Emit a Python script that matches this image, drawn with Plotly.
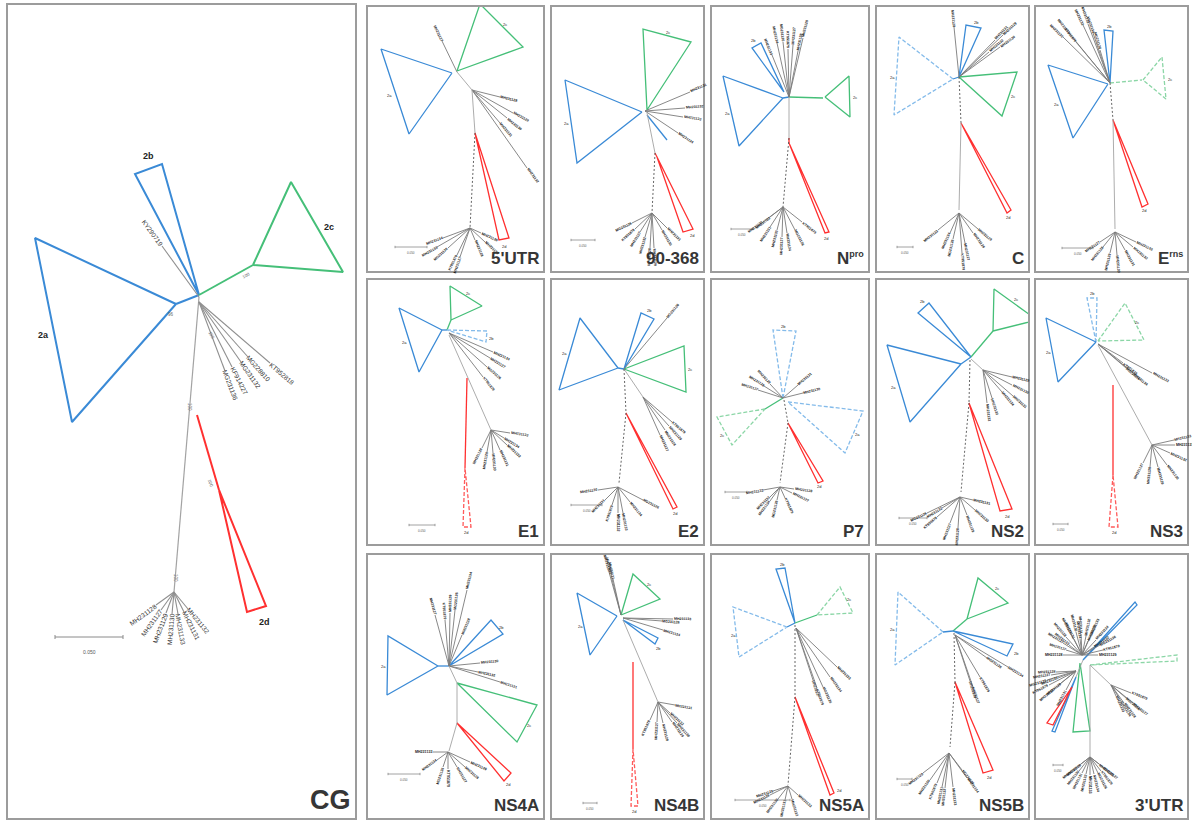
import math
import plotly.graph_objects as go

# ------------------------------------------------------------------ data ---
PANEL_LABELS = ["CG", "5'UTR", "90-368", "N<sup><span style='font-size:9px'>pro</span></sup>", "C",
                "E<sup><span style='font-size:9px'>rns</span></sup>",
                "E1", "E2", "P7", "NS2", "NS3", "NS4A", "NS4B", "NS5A", "NS5B", "3'UTR"]

ACCESSIONS = ["MH231127", "MH231128", "MH231129", "MH231130", "MH231131",
              "MH231132", "MH231133", "MH231134", "MG231126", "KT951879"]

# Tree layouts: node coordinates in each panel's own layout units.
# clades: (style, apex, vertex1, vertex2, clade label, label position)
# edges: (node, node, style)  -- style 'k' is a labelled leaf
# fans: (node, [leaf tips])
# scale: (x start, x end, y)

CG_CLADES = [("b", (168, 299), (27, 233), (64, 417), "2a", (35, 330)),
             ("b", (191, 290), (127, 169), (154, 159), "2b", (140, 151)),
             ("g", (245, 260), (283, 177), (335, 267), "2c", (321, 222)),
             ("r", (211, 485), (239, 607), (258, 601), "2d", (256, 617))]
CG_EDGES = [((191, 290), (168, 299), "b"), ((191, 290), (245, 260), "g"),
            ((189, 410), (211, 485), "r"), ((191, 292), (166, 587), "n")]
CG_LEAVES = [((191, 292), (154, 241), "KY290719"), ((191, 297), (262, 358), "KT952818"),
             ((191, 297), (240, 352), "MG228810"), ((191, 297), (233, 357), "MG231132"),
             ((191, 297), (224, 362), "KF914227"), ((191, 297), (217, 366), "MG231136")]
CG_FAN_NODE = (166, 587)
CG_FAN_TIPS = [(148, 600), (153, 605), (158, 608), (164, 609), (170, 609), (176, 607), (180, 604)]
CG_FAN_NAMES = ["MH231128", "MH231127", "MH231129", "MH231130", "MH231133", "MH231131", "MH231132"]
CG_SUPPORT = [((238, 270), "100", -30), ((182, 402), "100", 90), ((203, 478), "100", 68),
              ((204, 330), "100", 62), ((163, 309), "96", 0), ((168, 573), "100", 90)]
CG_SCALE = (47, 115, 632, "0.050")

UTR5_CLADES = [("b", (84, 66), (13, 42), (41, 127), "2a", (21, 88)),
               ("g", (89, 64), (112, -3), (155, 40), "2c", (137, 17)),
               ("r", (107, 126), (131, 233), (141, 231), "2d", (136, 239))]
UTR5_EDGES = [((89, 65), (74, 34), "k"), ((89, 65), (104, 83), "n"),
              ((104, 83), (132, 90), "k"), ((104, 83), (145, 106), "k"), ((104, 83), (139, 111), "k"),
              ((104, 83), (132, 116), "k"), ((104, 83), (159, 161), "k"),
              ((104, 83), (107, 126), "n"), ((107, 126), (102, 221), "d")]
UTR5_FANS = [((102, 221), [(69, 240), (75, 231), (80, 241), (89, 248), (92, 250), (107, 233), (117, 235), (113, 226)])]
UTR5_SCALE = (27, 59, 240, "0.050")

S90_CLADES = [("b", (90, 105), (13, 73), (25, 156), "2a", (14, 116)),
              ("g", (95, 103), (91, 22), (139, 35), "2c", (116, 25)),
              ("r", (105, 150), (131, 225), (141, 222), "2d", (140, 228))]
S90_EDGES = [((93, 104), (138, 85), "k"), ((93, 104), (133, 101), "k"), ((93, 104), (131, 110), "k"),
             ((93, 104), (126, 126), "k"), ((95, 108), (115, 133), "b"), ((95, 106), (103, 146), "n"),
             ((103, 146), (105, 150), "r"), ((103, 146), (100, 206), "d")]
S90_FANS = [((100, 206), [(80, 216), (83, 222), (88, 225), (98, 241), (102, 241), (110, 223), (115, 221), (93, 230)])]
S90_SCALE = (19, 43, 233, "0.050")

NPRO_CLADES = [("b", (71, 91), (11, 69), (27, 139), "2a", (15, 106)),
               ("b", (72, 85), (40, 41), (49, 36), "2b", (41, 33)),
               ("g", (113, 90), (137, 69), (138, 110), "2c", (143, 90)),
               ("r", (77, 136), (113, 226), (117, 225), "2d", (114, 231))]
NPRO_EDGES = [((77, 90), (111, 91), "g"), ((77, 90), (71, 91), "b"),
              ((77, 90), (60, 48), "k"), ((77, 90), (65, 36), "k"), ((77, 90), (71, 35), "k"),
              ((77, 90), (76, 42), "k"), ((77, 90), (81, 38), "k"), ((77, 90), (86, 44), "k"),
              ((77, 90), (91, 31), "k"), ((77, 90), (77, 131), "n"), ((77, 131), (77, 136), "r"),
              ((77, 131), (71, 200), "d")]
NPRO_FANS = [((71, 200), [(51, 215), (58, 220), (58, 210), (65, 223), (75, 226), (83, 223), (90, 215), (70, 230)])]
NPRO_SCALE = (19, 41, 222, "0.050")

C_CLADES = [("bl", (76, 72), (22, 30), (17, 108), "2a", (15, 70)),
            ("b", (82, 70), (89, 18), (104, 21), "2b", (99, 15)),
            ("g", (82, 70), (140, 65), (125, 109), "2c", (136, 89)),
            ("r", (84, 116), (130, 206), (134, 203), "2d", (131, 210))]
C_EDGES = [((82, 70), (76, 72), "b"), ((82, 70), (77, 20), "k"), ((82, 70), (126, 28), "k"),
           ((82, 70), (123, 40), "k"), ((82, 70), (118, 33), "k"), ((82, 70), (112, 45), "k"),
           ((82, 70), (84, 116), "d"), ((84, 116), (82, 203), "n")]
C_FANS = [((82, 206), [(61, 223), (73, 226), (76, 232), (85, 246), (88, 236), (96, 226), (101, 222)])]
C_SCALE = (20, 36, 240, "0.050")

ERNS_CLADES = [("b", (72, 77), (12, 58), (37, 131), "2a", (20, 97)),
               ("b", (74, 76), (68, 23), (77, 24), "2b", (73, 19)),
               ("gl", (107, 73), (126, 50), (130, 92), "2c", (134, 72)),
               ("r", (77, 113), (106, 200), (112, 197), "2d", (108, 203))]
ERNS_EDGES = [((74, 76), (106, 73), "gl"), ((74, 76), (27, 30), "k"), ((74, 76), (33, 26), "k"),
              ((74, 76), (47, 18), "k"), ((74, 76), (52, 17), "k"), ((74, 76), (57, 26), "k"),
              ((74, 76), (64, 43), "k"), ((74, 76), (40, 35), "k"), ((74, 76), (77, 113), "d"),
              ((77, 113), (79, 222), "n")]
ERNS_FANS = [((79, 225), [(64, 235), (67, 240), (74, 246), (81, 248), (89, 243), (97, 240), (100, 235)])]
ERNS_SCALE = (26, 57, 241, "0.050")

E1_CLADES = [("b", (74, 50), (31, 28), (51, 92), "2a", (36, 62)),
             ("g", (83, 40), (82, 6), (114, 26), "2c", (100, 13)),
             ("bl", (79, 50), (119, 51), (118, 62), "2b", (123, 58)),
             ("rl", (97, 188), (95, 247), (103, 247), "2d", (98, 252))]
E1_EDGES = [((79, 50), (74, 50), "b"), ((79, 50), (83, 40), "g"), ((81, 53), (125, 72), "k"),
            ((81, 53), (119, 87), "k"), ((81, 53), (115, 97), "k"), ((81, 53), (122, 78), "k"),
            ((81, 55), (123, 150), "n"), ((99, 98), (97, 188), "r")]
E1_FANS = [((123, 150), [(114, 168), (119, 172), (125, 173), (132, 170), (139, 165), (142, 153), (136, 158)])]
E1_SCALE = (41, 67, 245, "0.050")

E2_CLADES = [("b", (66, 88), (28, 38), (7, 110), "2a", (12, 73)),
             ("b", (72, 89), (89, 33), (102, 39), "2b", (97, 30)),
             ("g", (72, 89), (132, 66), (134, 112), "2c", (138, 89)),
             ("r", (74, 133), (121, 229), (125, 227), "2d", (123, 233))]
E2_EDGES = [((72, 89), (66, 88), "b"), ((72, 89), (115, 38), "k"), ((72, 89), (91, 117), "n"),
            ((91, 117), (120, 142), "k"), ((91, 117), (108, 155), "k"), ((91, 117), (113, 150), "k"),
            ((91, 117), (117, 146), "k"), ((72, 89), (74, 133), "d"), ((74, 133), (67, 203), "d")]
E2_FANS = [((66, 207), [(46, 210), (53, 220), (66, 233), (71, 233), (78, 222), (91, 220), (60, 225)])]
E2_SCALE = (19, 50, 225, "0.050")

P7_CLADES = [("bl", (71, 118), (61, 50), (84, 51), "2b", (71, 46)),
             ("bl", (76, 122), (151, 131), (133, 173), "2a", (145, 154)),
             ("gl", (53, 129), (5, 137), (20, 165), "2c", (10, 155)),
             ("r", (76, 143), (106, 203), (111, 201), "2d", (107, 206))]
P7_EDGES = [((71, 118), (53, 129), "g"), ((71, 118), (46, 110), "k"), ((71, 118), (52, 106), "k"),
            ((71, 118), (58, 104), "k"), ((71, 118), (91, 113), "k"), ((71, 118), (86, 105), "k"),
            ((72, 120), (76, 143), "d"), ((76, 143), (68, 203), "d")]
P7_FANS = [((68, 207), [(51, 210), (58, 217), (58, 221), (65, 220), (73, 218), (80, 213), (82, 209)])]
P7_SCALE = (13, 35, 212, "0.050")

NS2_CLADES = [("b", (94, 77), (41, 33), (52, 23), "2b", (45, 21)),
              ("g", (116, 51), (117, 9), (160, 40), "2c", (139, 19)),
              ("b", (84, 84), (10, 65), (33, 142), "2a", (16, 107)),
              ("r", (92, 123), (123, 231), (135, 229), "2d", (130, 236))]
NS2_EDGES = [((94, 77), (116, 51), "g"), ((94, 77), (84, 84), "b"), ((94, 79), (106, 90), "n"),
             ((106, 90), (135, 97), "k"), ((106, 90), (135, 105), "k"), ((106, 90), (136, 116), "k"),
             ((106, 90), (110, 123), "k"), ((106, 90), (115, 118), "k"), ((106, 90), (125, 112), "k"),
             ((93, 80), (92, 123), "d"), ((92, 123), (84, 212), "d")]
NS2_FANS = [((83, 217), [(50, 233), (60, 237), (73, 243), (81, 248), (90, 235), (98, 230), (96, 220), (65, 228)])]
NS2_SCALE = (22, 50, 238, "0.050")

NS3_CLADES = [("bl", (60, 62), (51, 18), (61, 18), "2b", (56, 13)),
              ("gl", (62, 61), (89, 23), (108, 60), "2c", (101, 42)),
              ("b", (60, 62), (10, 38), (22, 102), "2a", (12, 72)),
              ("rl", (77, 195), (73, 247), (82, 247), "2d", (78, 252))]
NS3_EDGES = [((62, 64), (116, 93), "k"), ((62, 64), (97, 93), "k"), ((62, 64), (90, 88), "k"),
             ((62, 64), (87, 83), "k"), ((62, 65), (116, 165), "n"), ((77, 105), (77, 195), "r")]
NS3_FANS = [((116, 165), [(107, 183), (114, 187), (122, 187), (131, 185), (139, 165), (134, 173), (138, 160)])]
NS3_SCALE = (17, 32, 244, "0.050")

NS4A_CLADES = [("b", (70, 111), (20, 81), (19, 140), "2a", (15, 111)),
               ("b", (81, 111), (123, 65), (135, 79), "2b", (133, 72)),
               ("g", (89, 128), (169, 150), (149, 187), "2c", (161, 170)),
               ("r", (89, 168), (136, 226), (143, 218), "2d", (140, 229))]
NS4A_EDGES = [((81, 111), (70, 111), "b"), ((81, 111), (99, 35), "k"), ((81, 111), (87, 55), "k"),
              ((81, 111), (77, 65), "k"), ((81, 111), (67, 60), "k"), ((81, 111), (94, 80), "k"),
              ((81, 111), (82, 58), "k"), ((81, 111), (112, 108), "k"), ((81, 111), (132, 127), "k"),
              ((81, 111), (110, 117), "k"), ((81, 111), (89, 128), "n"), ((89, 128), (89, 168), "n"),
              ((89, 168), (81, 196), "n")]
NS4A_FANS = [((80, 197), [(65, 197), (69, 205), (75, 212), (80, 214), (89, 212), (97, 212), (102, 207)])]
NS4A_SCALE = (20, 52, 219, "0.050")

NS4B_CLADES = [("b", (65, 61), (25, 38), (38, 100), "2a", (28, 71)),
               ("g", (69, 60), (81, 19), (108, 44), "2c", (97, 29)),
               ("b", (71, 65), (106, 83), (103, 89), "2b", (106, 93)),
               ("rl", (81, 194), (79, 251), (86, 251), "2d", (82, 256))]
NS4B_EDGES = [((69, 60), (57, 17), "k"), ((69, 60), (61, 24), "k"), ((69, 60), (59, 20), "k"),
              ((71, 63), (121, 64), "k"), ((71, 63), (111, 75), "k"), ((71, 63), (110, 66), "k"),
              ((71, 65), (106, 147), "n"), ((81, 107), (81, 194), "r")]
NS4B_FANS = [((106, 147), [(98, 165), (105, 167), (111, 168), (120, 167), (125, 168), (123, 150), (118, 158)])]
NS4B_SCALE = (31, 45, 248, "0.050")

NS5A_CLADES = [("b", (83, 68), (64, 14), (73, 13), "2b", (70, 9)),
               ("bl", (75, 72), (21, 52), (27, 102), "2a", (21, 80)),
               ("gl", (105, 60), (128, 32), (141, 58), "2c", (137, 44)),
               ("r", (83, 142), (118, 240), (122, 238), "2d", (127, 235))]
NS5A_EDGES = [((83, 68), (75, 72), "b"), ((83, 68), (105, 60), "g"), ((84, 73), (125, 112), "k"),
              ((84, 73), (118, 122), "k"), ((84, 73), (111, 132), "k"), ((84, 73), (105, 133), "k"),
              ((84, 73), (101, 125), "k"), ((83, 70), (83, 142), "d"), ((83, 142), (76, 230), "d")]
NS5A_FANS = [((76, 231), [(58, 240), (61, 236), (66, 244), (73, 245), (80, 244), (86, 240)])]
NS5A_SCALE = (23, 78, 245, "0.050")

NS5B_CLADES = [("bl", (66, 77), (21, 37), (18, 110), "2a", (15, 74)),
               ("g", (90, 64), (101, 23), (131, 48), "2c", (120, 33)),
               ("b", (76, 76), (136, 89), (130, 101), "2b", (139, 98)),
               ("r", (78, 127), (106, 218), (116, 215), "2d", (112, 222))]
NS5B_EDGES = [((76, 76), (66, 77), "b"), ((76, 76), (90, 64), "g"), ((78, 80), (131, 112), "k"),
              ((78, 80), (110, 103), "k"), ((78, 80), (103, 122), "k"), ((78, 80), (96, 132), "k"),
              ((78, 80), (93, 126), "k"), ((77, 78), (78, 127), "d"), ((78, 127), (73, 192), "d")]
NS5B_FANS = [((72, 198), [(46, 218), (53, 225), (65, 232), (68, 233), (76, 232), (90, 223), (85, 215), (60, 228)])]
NS5B_SCALE = (20, 35, 224, "0.050")

UTR3_CLADES = [("b", (47, 105), (99, 47), (101, 50), "", (101, 44)),
               ("gl", (54, 110), (141, 100), (141, 106), "", (143, 103)),
               ("g", (44, 108), (37, 177), (54, 176), "", (46, 181)),
               ("r", (36, 132), (11, 168), (17, 170), "", (12, 173)),
               ("b", (40, 122), (16, 176), (19, 177), "", (18, 181))]
UTR3_EDGES = [((54, 110), (54, 202), "n"), ((47, 105), (40, 122), "n"), ((54, 110), (75, 130), "n")]
UTR3_FANS = [((46, 100), [(27, 88), (30, 82), (35, 79), (40, 77), (45, 79), (50, 81), (55, 80), (60, 85),
                          (64, 90), (67, 95), (30, 95), (27, 100), (62, 100), (38, 84), (52, 86), (58, 92),
                          (33, 90), (44, 84)]),
             ((40, 116), [(11, 125), (13, 130), (15, 120), (20, 117), (25, 128), (18, 134), (30, 135), (22, 123)]),
             ((75, 130), [(80, 141), (85, 146), (90, 143), (95, 138), (97, 148), (88, 148)]),
             ((54, 202), [(41, 212), (43, 216), (46, 218), (50, 219), (54, 220), (58, 219), (62, 218),
                          (65, 216), (67, 212), (45, 209), (63, 209)])]
UTR3_SCALE = (17, 27, 210, "0.050")

SMALL_PANELS = [
    (UTR5_CLADES, UTR5_EDGES, UTR5_FANS, UTR5_SCALE),
    (S90_CLADES, S90_EDGES, S90_FANS, S90_SCALE),
    (NPRO_CLADES, NPRO_EDGES, NPRO_FANS, NPRO_SCALE),
    (C_CLADES, C_EDGES, C_FANS, C_SCALE),
    (ERNS_CLADES, ERNS_EDGES, ERNS_FANS, ERNS_SCALE),
    (E1_CLADES, E1_EDGES, E1_FANS, E1_SCALE),
    (E2_CLADES, E2_EDGES, E2_FANS, E2_SCALE),
    (P7_CLADES, P7_EDGES, P7_FANS, P7_SCALE),
    (NS2_CLADES, NS2_EDGES, NS2_FANS, NS2_SCALE),
    (NS3_CLADES, NS3_EDGES, NS3_FANS, NS3_SCALE),
    (NS4A_CLADES, NS4A_EDGES, NS4A_FANS, NS4A_SCALE),
    (NS4B_CLADES, NS4B_EDGES, NS4B_FANS, NS4B_SCALE),
    (NS5A_CLADES, NS5A_EDGES, NS5A_FANS, NS5A_SCALE),
    (NS5B_CLADES, NS5B_EDGES, NS5B_FANS, NS5B_SCALE),
    (UTR3_CLADES, UTR3_EDGES, UTR3_FANS, UTR3_SCALE),
]

# ---------------------------------------------------------------- layout ---
FIG_W, FIG_H = 1192, 820
FONT = "Liberation Sans, Arial, Helvetica, sans-serif"
CG_BOX = (8, 5, 355, 818)
COLS = [(368, 543), (552, 703), (712, 868), (877, 1028), (1036, 1187)]
ROWS = [(7, 271), (280, 544), (555, 818)]

STYLES = {
    "b": dict(color="#3a8ad6", dash="solid"),
    "bl": dict(color="#84bbea", dash="4px,2px"),
    "g": dict(color="#45bf78", dash="solid"),
    "gl": dict(color="#8bd6a6", dash="4px,2px"),
    "r": dict(color="#ff3030", dash="solid"),
    "rl": dict(color="#ff5a5a", dash="4px,2px"),
    "n": dict(color="#a3a3a3", dash="solid"),
    "d": dict(color="#555555", dash="2px,2px"),
    "k": dict(color="#7a7a7a", dash="solid"),
}

fig = go.Figure()
annotations = []
acc_counter = [0]


def next_acc():
    name = ACCESSIONS[acc_counter[0] % len(ACCESSIONS)]
    acc_counter[0] += 1
    return name


def leaf_label(xr, yr, node, tip, text, size, color, bold=False):
    dx, dy = tip[0] - node[0], tip[1] - node[1]
    L = math.hypot(dx, dy) or 1.0
    ux, uy = dx / L, dy / L
    tl = len(text) * 0.55 * size
    cx = tip[0] + ux * (tl / 2 + 1.2)
    cy = tip[1] + uy * (tl / 2 + 1.2)
    ang = math.degrees(math.atan2(dy, dx))
    if ang > 90:
        ang -= 180
    elif ang < -90:
        ang += 180
    annotations.append(dict(x=cx, y=cy, xref=xr, yref=yr, text=f"<b>{text}</b>" if bold else text,
                            showarrow=False, textangle=ang, xanchor="center", yanchor="middle",
                            font=dict(size=size, color=color, family=FONT)))


def draw_panel(idx, box, label, clades, edges, fans, scale, big=False):
    left, top, right, bottom = box
    w, h = right - left, bottom - top
    xr = "x" if idx == 0 else f"x{idx + 1}"
    yr = "y" if idx == 0 else f"y{idx + 1}"
    axis_common = dict(showgrid=False, zeroline=False, showticklabels=False, ticks="",
                       showline=True, mirror=True, linecolor="#9c9c9c", linewidth=2,
                       fixedrange=True)
    fig.layout[("xaxis" if idx == 0 else f"xaxis{idx + 1}")] = dict(
        domain=[left / FIG_W, right / FIG_W], range=[0, w], anchor=yr, **axis_common)
    fig.layout[("yaxis" if idx == 0 else f"yaxis{idx + 1}")] = dict(
        domain=[1 - bottom / FIG_H, 1 - top / FIG_H], range=[h, 0], anchor=xr, **axis_common)

    tri_w = 2.0 if big else 1.3
    br_w = 1.2 if big else 0.9
    leaf_size = 6.5 if big else 3.6
    groups = {}

    def add_seg(style, pts):
        g = groups.setdefault(style, ([], []))
        for p in pts:
            g[0].append(p[0])
            g[1].append(p[1])
        g[0].append(None)
        g[1].append(None)

    for style, apex, v1, v2, clab, lpos in clades:
        add_seg(("tri", style), [apex, v1, v2, apex])
        if clab:
            annotations.append(dict(x=lpos[0], y=lpos[1], xref=xr, yref=yr, text=f"<b>{clab}</b>" if big else clab,
                                    showarrow=False, xanchor="center", yanchor="middle",
                                    font=dict(size=9 if big else 4, color="#222", family=FONT)))
    for a, b, style in edges:
        if style == "k":
            add_seg(("br", "k"), [a, b])
            leaf_label(xr, yr, a, b, next_acc(), leaf_size, "#1a1a1a", bold=True)
        elif style in ("n", "d"):
            add_seg(("br", style), [a, b])
        else:
            add_seg(("tri", style), [a, b])
    for node, tips in fans:
        for t in tips:
            add_seg(("br", "k"), [node, t])
            leaf_label(xr, yr, node, t, next_acc(), leaf_size, "#1a1a1a", bold=True)

    for (kind, style), (xs, ys) in groups.items():
        st = STYLES[style]
        fig.add_trace(go.Scatter(x=xs, y=ys, mode="lines", xaxis=xr, yaxis=yr,
                                 line=dict(color=st["color"], dash=st["dash"],
                                           width=tri_w if kind == "tri" else br_w),
                                 hoverinfo="skip", showlegend=False))

    sx0, sx1, sy, stxt = scale
    tk = 2.0 if big else 1.2
    fig.add_trace(go.Scatter(x=[sx0, sx1, None, sx0, sx0, None, sx1, sx1],
                             y=[sy, sy, None, sy - tk, sy + tk, None, sy - tk, sy + tk],
                             mode="lines", xaxis=xr, yaxis=yr,
                             line=dict(color="#8a8a8a", width=1 if big else 0.8),
                             hoverinfo="skip", showlegend=False))
    annotations.append(dict(x=(sx0 + sx1) / 2, y=sy + (15 if big else 6), xref=xr, yref=yr, text=stxt,
                            showarrow=False, xanchor="center", yanchor="middle",
                            font=dict(size=5 if big else 3, color="#555", family=FONT)))

    annotations.append(dict(x=w - 2.5, y=h - 1, xref=xr, yref=yr, text=f"<b>{label}</b>",
                            showarrow=False, xanchor="right", yanchor="bottom",
                            font=dict(size=27 if big else 17, color="#363636", family=FONT)))
    return xr, yr


# ---- CG panel ----
xr, yr = draw_panel(0, CG_BOX, PANEL_LABELS[0], CG_CLADES, CG_EDGES, [], CG_SCALE, big=True)
lx, ly = [], []
for a, b, name in CG_LEAVES:
    lx += [a[0], b[0], None]
    ly += [a[1], b[1], None]
    leaf_label(xr, yr, a, b, name, 6.5, "#333")
for t, name in zip(CG_FAN_TIPS, CG_FAN_NAMES):
    lx += [CG_FAN_NODE[0], t[0], None]
    ly += [CG_FAN_NODE[1], t[1], None]
    leaf_label(xr, yr, CG_FAN_NODE, t, name, 6.5, "#333")
fig.add_trace(go.Scatter(x=lx, y=ly, mode="lines", xaxis=xr, yaxis=yr,
                         line=dict(color="#8f8f8f", width=1.1), hoverinfo="skip", showlegend=False))
for pos, txt, ang in CG_SUPPORT:
    annotations.append(dict(x=pos[0], y=pos[1], xref=xr, yref=yr, text=txt, showarrow=False,
                            textangle=ang, font=dict(size=4.5, color="#666", family=FONT)))

# ---- small panels ----
for i, (clades, edges, fans, scale) in enumerate(SMALL_PANELS):
    r, c = divmod(i, 5)
    box = (COLS[c][0], ROWS[r][0], COLS[c][1], ROWS[r][1])
    draw_panel(i + 1, box, PANEL_LABELS[i + 1], clades, edges, fans, scale)

fig.update_layout(width=FIG_W, height=FIG_H, margin=dict(l=0, r=0, t=0, b=0),
                  paper_bgcolor="white", plot_bgcolor="white", showlegend=False,
                  annotations=annotations, font=dict(family=FONT))
fig.write_html("out.html", config={"displayModeBar": False},
               post_script="document.body.style.margin='0';document.body.style.overflow='hidden';")
